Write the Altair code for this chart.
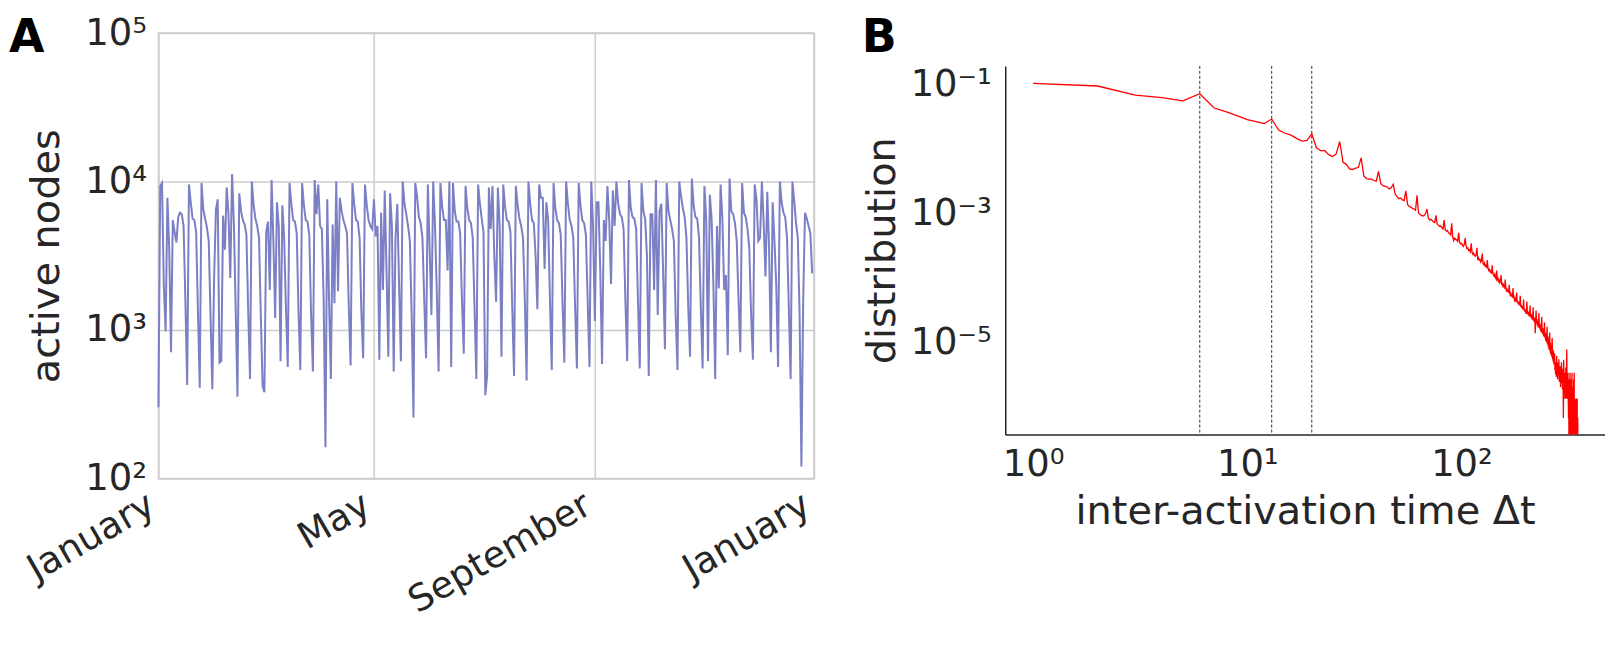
import altair as alt
import pandas as pd

# ---------------- Panel A: daily active nodes (log10 of count), 1 Jan 2010 .. 31 Dec 2010
active_nodes_log10 = [
    2.48, 3.97, 3.99, 3.30, 2.99, 3.89, 3.55, 2.85, 3.74, 3.66, 3.59, 3.76, 3.79, 3.78, 3.70, 3.20, 2.63,
    3.98, 3.86, 3.75, 3.74, 3.66, 3.12, 2.61,
    3.99, 3.81, 3.75, 3.69, 3.60, 3.10, 2.60,
    3.35, 3.81, 3.88, 2.78, 2.79, 3.77, 3.54,
    3.96, 3.78, 3.35, 4.05, 3.72, 3.15, 2.55,
    3.92, 3.80, 3.74, 3.71, 3.64, 3.12, 2.67,
    4.00, 3.84, 3.75, 3.70, 3.62, 3.10, 2.62,
    2.58, 3.66, 3.73, 3.27, 4.01, 3.60, 3.08,
    3.86, 3.70, 2.79, 3.84, 3.62, 3.15, 2.75,
    3.99, 3.85, 3.74, 3.73, 3.65, 3.12, 2.73,
    3.99, 3.84, 3.74, 3.73, 3.64, 3.10, 2.72,
    4.01, 3.78, 3.98, 3.70, 3.68, 3.20, 2.21,
    3.88, 3.20, 2.67, 3.71, 3.18, 4.00, 3.26,
    3.89, 3.80, 3.74, 3.70, 3.65, 3.15, 2.76,
    3.99, 3.85, 3.74, 3.73, 3.62, 3.12, 2.81,
    3.98, 3.84, 3.74, 3.70, 3.68, 3.88, 3.63,
    3.70, 2.80, 3.79, 3.27, 3.94, 3.40, 2.82,
    3.92, 3.70, 2.72, 3.62, 3.85, 3.30, 2.79,
    4.00, 3.85, 3.78, 3.70, 3.60, 3.10, 2.41,
    3.99, 3.90, 3.76, 3.72, 3.62, 3.20, 2.81,
    3.98, 3.55, 3.10, 4.00, 3.70, 3.25, 2.72,
    3.99, 3.83, 3.74, 3.74, 3.40, 4.00, 2.75,
    3.99, 3.80, 3.73, 3.73, 3.65, 3.20, 2.84,
    3.97, 3.82, 3.74, 3.72, 3.62, 3.15, 2.67,
    3.98, 3.85, 3.75, 3.66, 2.56, 2.69, 3.96,
    3.68, 3.97, 3.50, 3.19, 3.96, 3.70, 2.82,
    3.98, 3.83, 3.74, 3.73, 3.66, 3.15, 2.69,
    3.97, 3.84, 3.75, 3.70, 3.62, 3.20, 2.66,
    4.00, 3.85, 3.74, 3.72, 3.50, 3.14, 3.98,
    3.89, 3.89, 3.41, 3.86, 3.74, 3.20, 2.73,
    3.99, 3.82, 3.74, 3.72, 3.64, 3.18, 2.78,
    4.00, 3.85, 3.74, 3.70, 3.62, 3.15, 2.74,
    3.99, 3.84, 3.74, 3.72, 3.64, 3.20, 2.75,
    4.00, 3.70, 3.06, 3.86, 3.86, 3.40, 2.77,
    3.74, 3.60, 3.97, 3.74, 3.31, 3.94, 3.70,
    4.00, 3.85, 3.78, 3.76, 3.68, 3.20, 2.79,
    4.01, 3.82, 3.76, 3.75, 3.68, 3.20, 2.74,
    3.99, 3.80, 3.75, 3.50, 2.69, 3.78, 3.78,
    3.27, 4.01, 3.10, 3.80, 3.85, 3.40, 2.87,
    3.99, 3.80, 3.74, 3.68, 3.60, 3.10, 2.73,
    4.00, 3.90, 3.82, 3.76, 3.62, 3.15, 2.82,
    4.02, 3.84, 3.76, 3.75, 3.62, 3.15, 2.74,
    3.97, 3.75, 2.79, 3.91, 3.75, 3.30, 2.67,
    3.70, 3.28, 3.98, 3.75, 3.27, 3.37, 2.83,
    4.02, 3.80, 3.78, 3.72, 3.60, 3.20, 2.85,
    3.99, 3.79, 3.76, 3.68, 3.55, 3.10, 2.80,
    3.98, 3.88, 3.60, 3.62, 4.00, 3.72, 3.36,
    3.93, 3.55, 2.85, 3.86, 3.60, 3.30, 2.75,
    4.00, 3.86, 3.79, 3.76, 3.62, 3.15, 2.67,
    4.00, 3.87, 3.72, 3.62, 3.10, 2.08, 3.20,
    3.79, 3.75, 3.70, 3.65, 3.38,
]
year_start = "2010-01-01"
month_ticks = [(2010, 1), (2010, 5), (2010, 9), (2011, 1)]
a_y_ticks = [100, 1000, 10000, 100000]

# ---------------- Panel B: inter-activation time distribution (log10; None = zero count)
Z = None
dt_values = list(range(1, 351))
distribution_log10 = [
    -0.99, -1.03, -1.17, -1.21, -1.26, -1.15, -1.37, -1.43, -1.49, -1.55,
    -1.58, -1.61, -1.54, -1.71, -1.76, -1.79, -1.84, -1.88, -1.87, -1.77,
    -1.98, -2.03, -2.03, -2.09, -2.12, -2.08, -1.89, -2.21, -2.24, -2.31,
    -2.32, -2.30, -2.29, -2.14, -2.42, -2.46, -2.47, -2.47, -2.49, -2.50,
    -2.35, -2.54, -2.57, -2.58, -2.59, -2.62, -2.60, -2.55, -2.70, -2.74,
    -2.77, -2.76, -2.79, -2.80, -2.65, -2.86, -2.89, -2.90, -2.92, -2.93,
    -2.95, -2.72, -2.99, -3.01, -3.03, -3.04, -3.03, -3.00, -2.93, -3.07,
    -3.10, -3.09, -3.11, -3.13, -3.14, -3.03, -3.16, -3.18, -3.20, -3.19,
    -3.22, -3.24, -3.10, -3.25, -3.27, -3.26, -3.30, -3.31, -3.33, -3.15,
    -3.36, -3.42, -3.38, -3.40, -3.41, -3.43, -3.30, -3.44, -3.47, -3.46,
    -3.49, -3.51, -3.48, -3.38, -3.50, -3.54, -3.53, -3.57, -3.56, -3.59,
    -3.46, -3.60, -3.63, -3.61, -3.65, -3.66, -3.64, -3.53, -3.70, -3.68,
    -3.72, -3.71, -3.75, -3.73, -3.62, -3.77, -3.79, -3.76, -3.81, -3.80,
    -3.84, -3.72, -3.85, -3.88, -3.86, -3.90, -3.89, -3.93, -3.80, -3.92,
    -3.95, -3.97, -3.94, -3.99, -4.01, -3.88, -4.02, -4.00, -4.05, -4.03,
    -4.07, -4.05, -3.95, -4.09, -4.08, -4.12, -4.10, -4.14, -4.16, -4.02,
    -4.15, -4.19, -4.17, -4.21, -4.18, -4.23, -4.10, -4.22, -4.26, -4.24,
    -4.28, -4.25, -4.30, -4.15, -4.31, -4.29, -4.34, -4.32, -4.36, -4.33,
    -4.22, -4.38, -4.35, -4.40, -4.37, -4.42, -4.39, -4.27, -4.44, -4.41,
    -4.46, -4.43, -4.48, -4.45, -4.33, -4.50, -4.47, -4.52, -4.49, -4.55,
    -4.49, -4.36, -4.55, -4.51, -4.57, -4.52, -4.59, -4.55, -4.42, -4.60,
    -4.55, -4.62, -4.56, -4.64, -4.58, -4.45, -4.66, -4.60, -4.68, -4.62,
    -4.85, -4.65, -4.50, -4.70, -4.63, -4.73, -4.66, -4.76, -4.68, -4.54,
    -4.77, -4.70, -4.80, -4.72, -4.83, -4.75, -4.60, -4.85, -4.77, -4.87,
    -4.79, -4.90, -4.81, -4.68, -4.92, -4.84, -4.96, -4.86, -4.99, -4.88,
    -4.75, -5.02, -4.90, -5.06, -4.93, -5.10, -4.96, -4.84, -5.13, -5.00,
    -5.17, -5.03, -5.21, -5.06, -4.92, -5.25, -5.10, -5.29, -5.13, -5.33,
    -5.31, -5.16, -5.42, -5.30, -5.48, -5.35, -5.52, -5.20, -5.45, -5.38,
    -5.56, -5.30, -5.50, -5.42, -5.25, -5.60, -5.40, -5.56, -5.36, -5.68,
    -5.46, -5.62, -5.30, -5.56, -5.48, -5.72, -5.40, -5.60, -6.16, -5.26,
    -5.56, -5.68, -5.46, -5.86, -5.56, -5.68, -5.38, -5.86, -5.56, -5.10,
    -5.68, -5.86, -5.56, -5.46, -5.86, -6.16, -5.56, Z, -5.68, -5.86,
    -5.46, -5.86, -6.16, Z, -5.56, -6.16, -5.86, -5.46, Z, -5.86,
    -5.68, -6.16, Z, -5.56, -6.16, -5.46, Z, -6.16, -5.86, Z,
    -6.16, Z, -5.86, -6.16, Z, -6.16, -5.86, Z, -6.16, Z,
]
weekly_marks = [6, 13, 20]
b_x_ticks = [1, 10, 100]
b_y_ticks = [1e-1, 1e-3, 1e-5]

# ---------------- tables
df_a = pd.DataFrame({
    "date": pd.date_range(year_start, periods=len(active_nodes_log10), freq="D"),
    "nodes": [10 ** v for v in active_nodes_log10],
})
ZERO_FLOOR = 1e-9  # zero counts fall below the axis, as a log plot clips them
df_b = pd.DataFrame({
    "dt": dt_values,
    "p": [10 ** v if v is not None else ZERO_FLOOR for v in distribution_log10],
})
df_v = pd.DataFrame({"dt": weekly_marks})

TXT = "#262626"
FONT = "DejaVu Sans"
GRID = "#cccccc"
TICK_FS = 37
TITLE_FS = 40
LETTER_FS = 46
SUP = "['⁰','¹','²','³','⁴','⁵','⁶','⁷']"

def dtm(y, m):
    return alt.DateTime(year=y, month=m, date=1)

# ---------------- Panel A
xa = alt.X(
    "date:T",
    scale=alt.Scale(domain=[dtm(2010, 1), dtm(2011, 1)], nice=False),
    axis=alt.Axis(
        values=[dtm(y, m) for y, m in month_ticks], format="%B",
        labelAngle=330, labelAlign="right", labelBaseline="top", labelPadding=8,
        labelOffset=-16, labelLimit=0,
        labelFlush=False, labelOverlap=False,
        grid=True, gridColor=GRID, gridWidth=1.5, domain=False, ticks=False,
        title=None, labelFontSize=TICK_FS, labelColor=TXT, labelFont=FONT,
    ),
)
ya = alt.Y(
    "nodes:Q",
    scale=alt.Scale(type="log", domain=[100, 100000], nice=False),
    axis=alt.Axis(
        values=a_y_ticks, labelExpr="'10' + " + SUP + "[round(log(datum.value)/LN10)]",
        labelFlush=False, labelOverlap=False, labelPadding=12,
        grid=True, gridColor=GRID, gridWidth=1.5, domain=False, ticks=False,
        title="active nodes", titleFontSize=TITLE_FS, titleFontWeight="normal",
        titleColor=TXT, titleFont=FONT, titlePadding=18,
        labelFontSize=TICK_FS, labelColor=TXT, labelFont=FONT,
    ),
)
line_a = alt.Chart(df_a).mark_line(color="#7b7fc4", strokeWidth=2).encode(x=xa, y=ya)
letter_a = alt.Chart(pd.DataFrame({"t": ["A"]})).mark_text(
    text="A", font=FONT, fontSize=LETTER_FS, fontWeight="bold", color="black",
    align="left", baseline="alphabetic",
).encode(x=alt.value(-150), y=alt.value(19))
panel_a = alt.layer(line_a, letter_a).properties(
    width=658, height=447,
    view=alt.ViewBackground(stroke=GRID, strokeWidth=1.5),
)

# ---------------- Panel B
xs_b = alt.Scale(type="log", domain=[10 ** -0.13, 10 ** 2.67], nice=False)
ys_b = alt.Scale(type="log", domain=[10 ** -6.415, 10 ** -0.72], nice=False)
xb = alt.X(
    "dt:Q", scale=xs_b,
    axis=alt.Axis(
        values=b_x_ticks, labelExpr="'10' + " + SUP + "[round(log(datum.value)/LN10)]",
        labelFlush=False, labelOverlap=False, labelPadding=12,
        grid=False, domain=True, domainColor=TXT, domainWidth=1.5, ticks=False,
        title="inter-activation time Δt", titleFontSize=TITLE_FS, titleFontWeight="normal",
        titleColor=TXT, titleFont=FONT, titlePadding=9,
        labelFontSize=TICK_FS, labelColor=TXT, labelFont=FONT,
    ),
)
yb = alt.Y(
    "p:Q", scale=ys_b,
    axis=alt.Axis(
        values=b_y_ticks, labelExpr="'10⁻' + " + SUP + "[round(-log(datum.value)/LN10)]",
        labelFlush=False, labelOverlap=False, labelPadding=14,
        grid=False, domain=True, domainColor=TXT, domainWidth=1.5, ticks=False,
        title="distribution", titleFontSize=TITLE_FS, titleFontWeight="normal",
        titleColor=TXT, titleFont=FONT, titlePadding=8,
        labelFontSize=TICK_FS, labelColor=TXT, labelFont=FONT,
    ),
)
rules_b = alt.Chart(df_v).mark_rule(color="#333333", strokeDash=[3, 2], strokeWidth=1).encode(
    x=alt.X("dt:Q", scale=xs_b)
)
line_b = alt.Chart(df_b).mark_line(color="#ff0000", strokeWidth=1.3, clip=True).encode(x=xb, y=yb)
panel_b = alt.layer(rules_b, line_b).properties(width=602, height=370)

letter_b = alt.Chart(pd.DataFrame({"t": ["B"]})).mark_text(
    text="B", font=FONT, fontSize=LETTER_FS, fontWeight="bold", color="black",
    align="left", baseline="alphabetic",
).encode(x=alt.value(-144), y=alt.value(19)).properties(width=602, height=33)

right = alt.vconcat(letter_b, panel_b, spacing=0, bounds="flush")

chart = alt.hconcat(panel_a, right, spacing=192, bounds="flush").properties(
    padding={"left": 0, "top": 4, "right": 0, "bottom": 0}
).configure_view(stroke=None)

chart.save("out.html", embed_options={"renderer": "svg", "actions": False})
